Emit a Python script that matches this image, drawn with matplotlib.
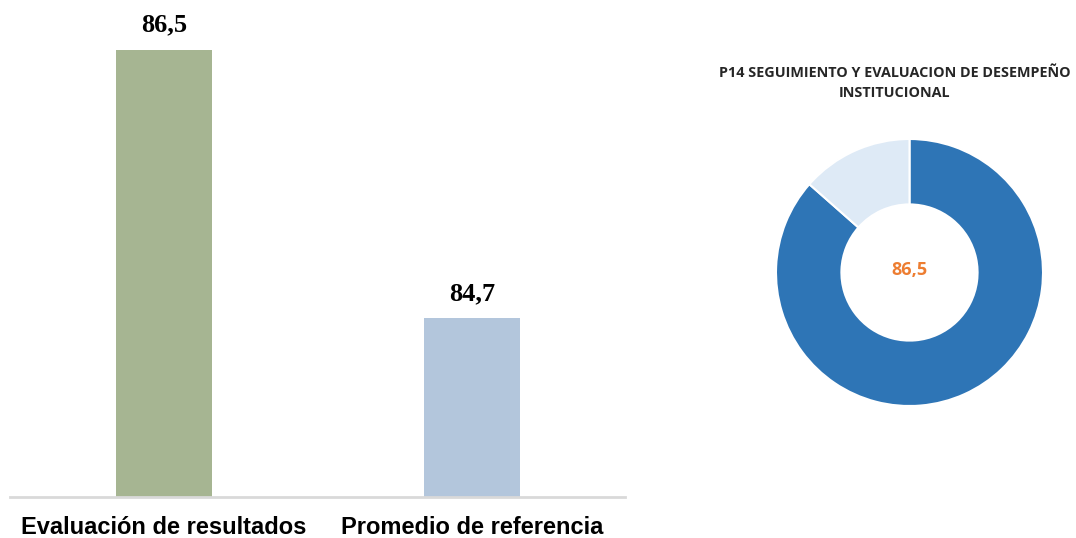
import matplotlib
matplotlib.use("Agg")
import matplotlib.pyplot as plt

# bar chart data
categories = ["Evaluación de resultados", "Promedio de referencia"]
values = [86.5, 84.7]
bar_colors = ["#A6B592", "#B3C6DC"]

# donut data
donut_title = "P14 SEGUIMIENTO Y EVALUACION DE DESEMPEÑO\nINSTITUCIONAL"
donut_score = 86.5
donut_parts = [donut_score, 100 - donut_score]
donut_colors = ["#2E75B6", "#DEEAF6"]


def fmt(v):
    return f"{v:.1f}".replace(".", ",")


fig = plt.figure(figsize=(10.76, 5.38), dpi=100)

# --- bars ---
ax = fig.add_axes([0.0, 1 - 497 / 538, 1.0, 497 / 538])
x = list(range(len(categories)))
ax.bar(x, values, width=0.31, color=bar_colors)
ax.set_xlim(-0.5 - 10 / 308, -0.5 - 10 / 308 + 1076 / 308)
ax.set_ylim(83.5, 86.836)
for xi, v in zip(x, values):
    ax.text(xi, v + 0.09, fmt(v), ha="center", va="bottom",
            fontsize=19, fontweight="bold", family="Liberation Serif")
ax.axhline(83.5, xmin=10 / 1076, xmax=625 / 1076, color="#D9D9D9", lw=2, clip_on=False)
for s in ax.spines.values():
    s.set_visible(False)
ax.set_yticks([])
ax.set_xticks([])
for xi, c in zip(x, categories):
    ax.text(xi, 83.5 - 0.13, c, ha="center", va="top", fontsize=17,
            fontweight="bold", family="Liberation Sans", color="#000000")
ax.patch.set_visible(False)

# --- donut ---
ax2 = fig.add_axes([(909.5 - 133.5) / 1076, 1 - (272.5 + 133.5) / 538, 267 / 1076, 267 / 538])
ax2.pie(donut_parts, colors=donut_colors, startangle=90, counterclock=False,
        radius=1.0, wedgeprops=dict(width=0.49, edgecolor="white", linewidth=1.5))
ax2.set_xlim(-1, 1)
ax2.set_ylim(-1, 1)
ax2.set_aspect("equal")
ax2.text(0, 0.02, fmt(donut_score), ha="center", va="center", fontsize=13,
         fontweight="bold", color="#ED7D31", family="Open Sans")

fig.text(895 / 1076, 1 - 83 / 538, donut_title, ha="center", va="center",
         fontsize=10.4, fontweight="bold", color="#262626", family="Open Sans",
         linespacing=1.6)

fig.savefig("out.png", dpi=100)
